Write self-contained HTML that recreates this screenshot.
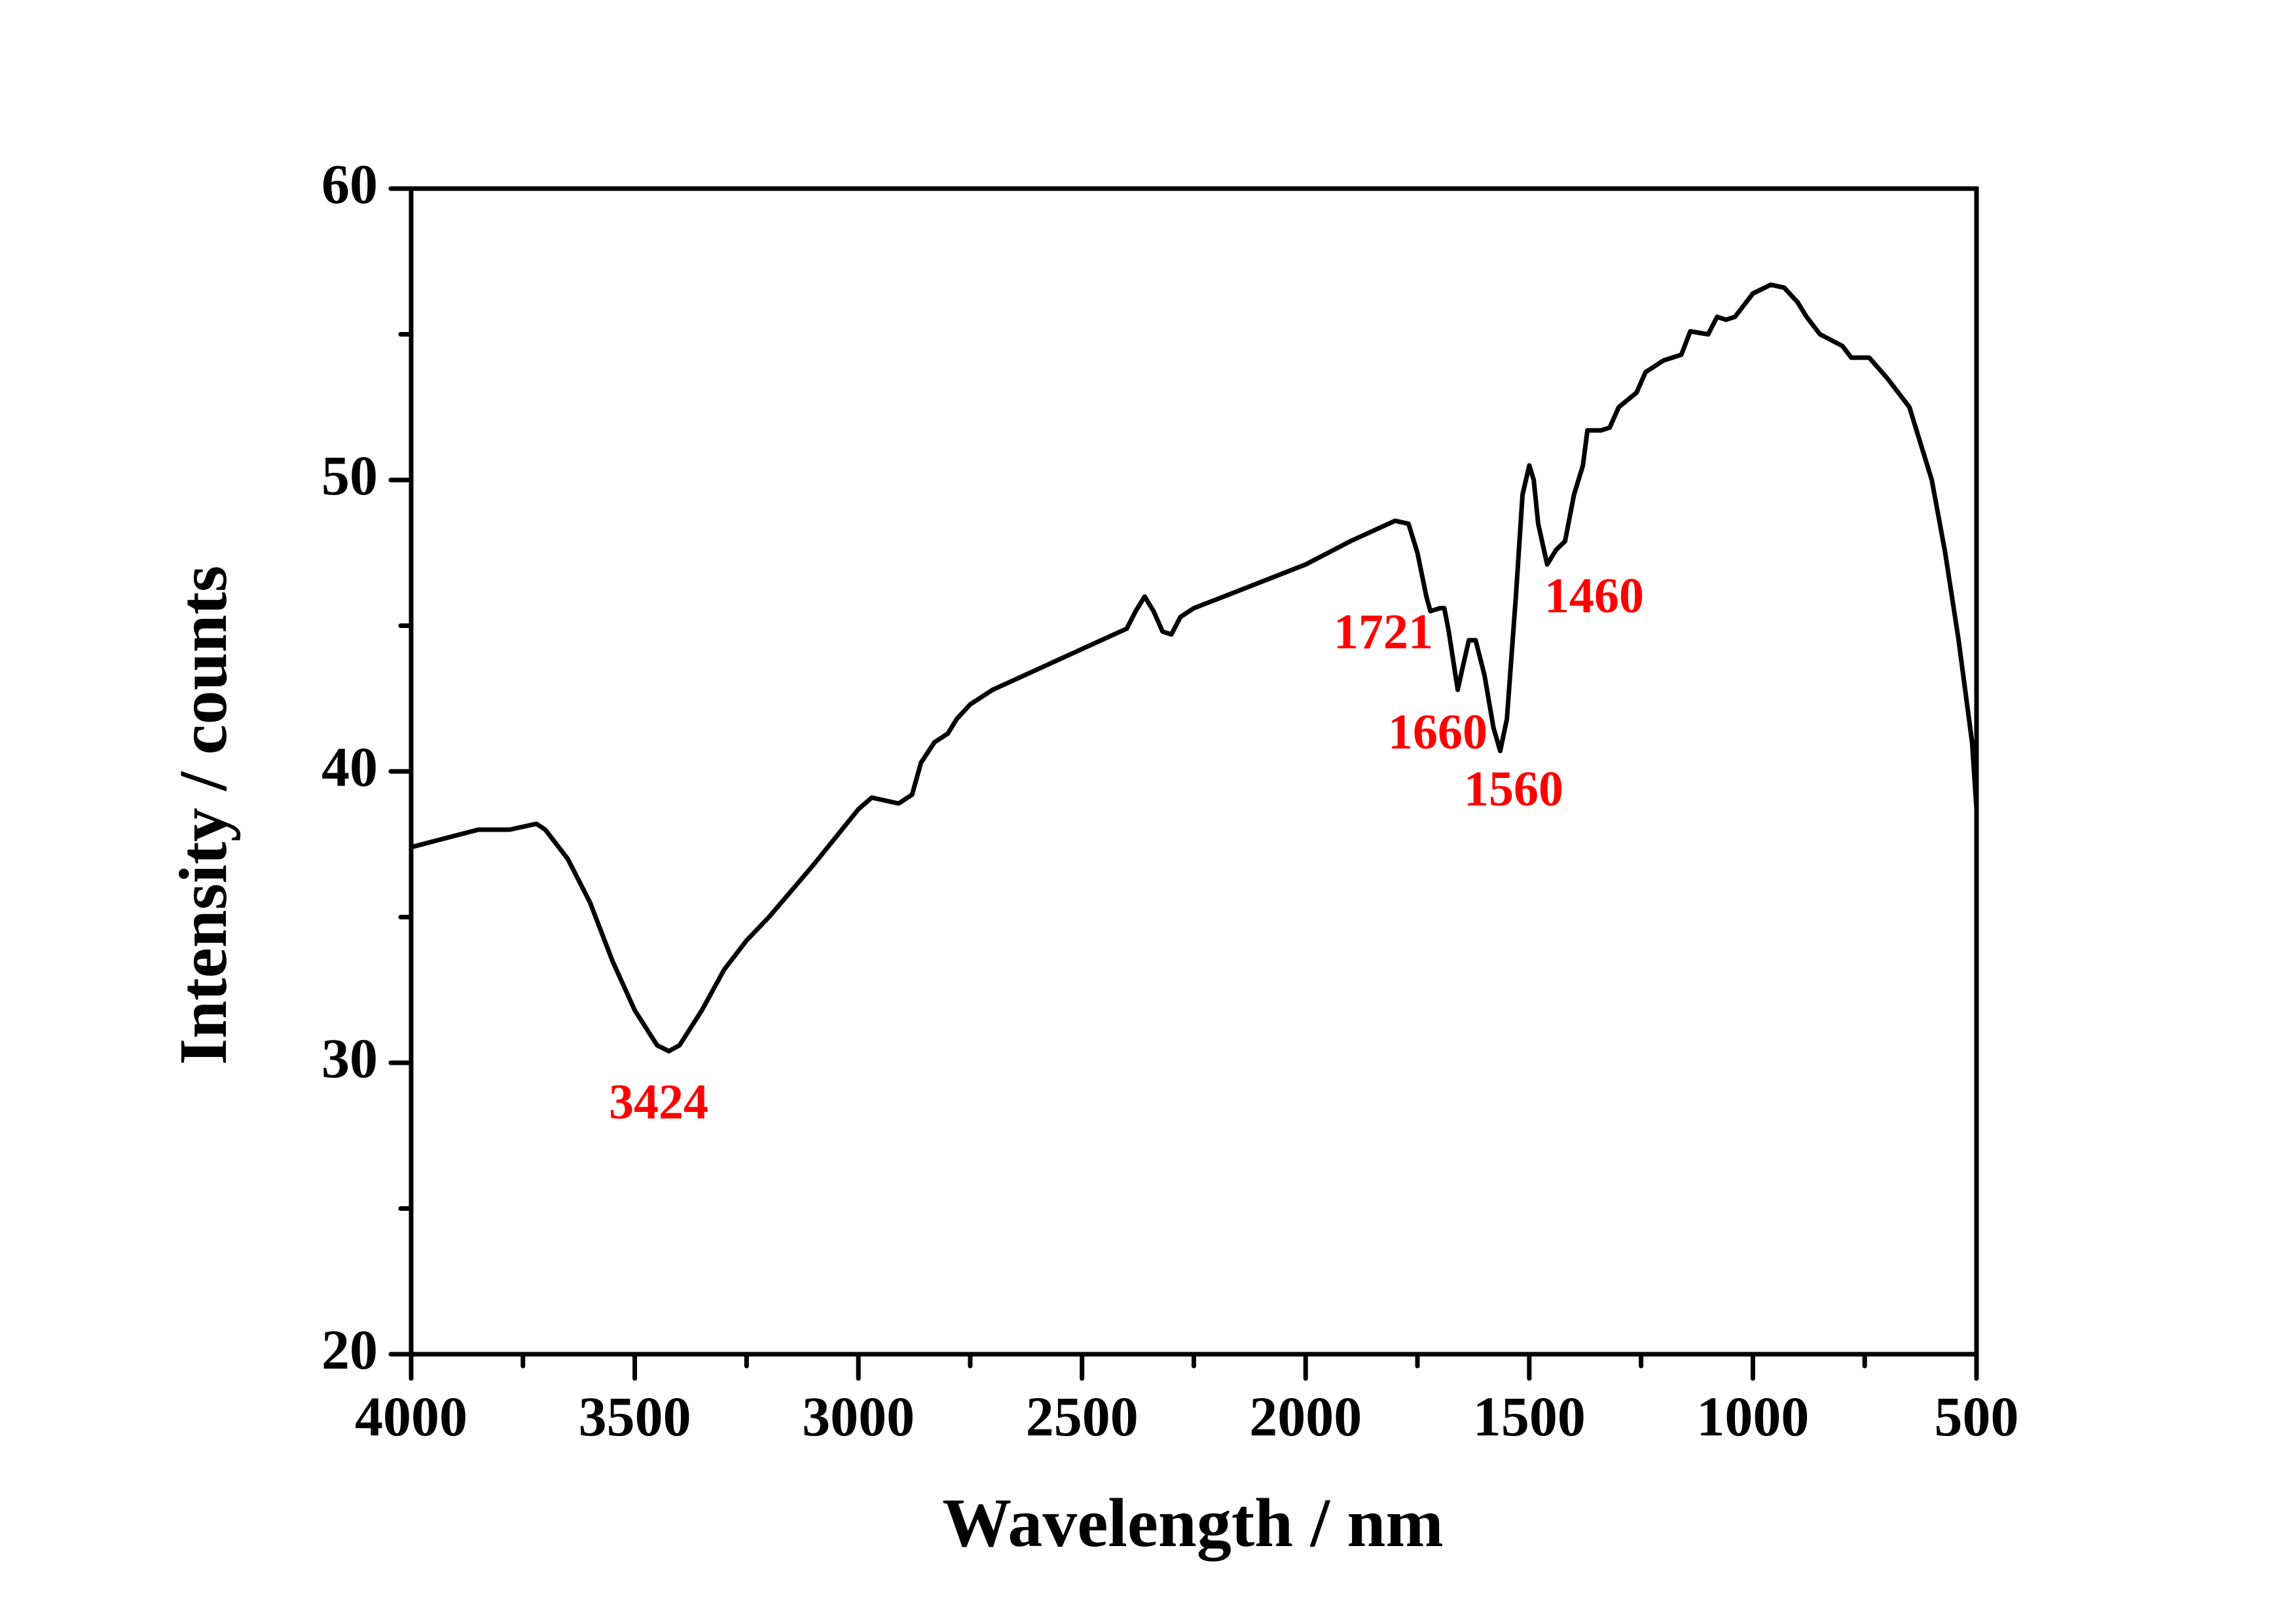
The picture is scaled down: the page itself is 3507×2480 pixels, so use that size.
<!DOCTYPE html>
<html><head><meta charset="utf-8"><style>
html,body{margin:0;padding:0;background:#fff;}
svg{display:block;}
text{font-family:"Liberation Serif",serif;font-weight:bold;}
</style></head><body>
<svg id="s" width="3507" height="2480" viewBox="0 0 3507 2480" xmlns="http://www.w3.org/2000/svg">
<g id="ticks" stroke="#000" stroke-width="7" stroke-linecap="round"></g>
<polyline id="curve" fill="none" stroke="#000" stroke-width="7" stroke-linejoin="round"/>
<rect x="628" y="288" width="2391" height="1780" fill="none" stroke="#000" stroke-width="7"/>
<g id="labels" font-size="86" fill="#000"></g>
<text x="1822" y="2361" font-size="106" text-anchor="middle">Wavelength / nm</text>
<text transform="translate(345,1245) rotate(-90)" font-size="104" text-anchor="middle">Intensity / counts</text>
<g fill="#ff0000" font-size="76" text-anchor="middle">
<text x="1006" y="1708">3424</text>
<text x="2113" y="990">1721</text>
<text x="2196" y="1143">1660</text>
<text x="2312" y="1230">1560</text>
<text x="2435" y="935">1460</text>
</g>
</svg>
<script>
var X=function(w){return 628+(4000-w)*2391/3500;};
var Y=function(v){return 2068-(v-20)*44.5;};
var d=[4000,37.4,3900,37.8,3850,38.0,3780,38.0,3720,38.2,3700,38.0,3650,37.0,3600,35.5,3550,33.5,3500,31.8,3450,30.6,3424,30.4,3400,30.6,3350,31.8,3300,33.2,3250,34.2,3200,35.0,3100,36.8,3000,38.7,2970,39.1,2940,39.0,2910,38.9,2880,39.2,2860,40.3,2830,41.0,2800,41.3,2780,41.8,2750,42.3,2700,42.8,2600,43.5,2500,44.2,2400,44.9,2380,45.5,2360,46.0,2340,45.5,2320,44.8,2300,44.7,2280,45.3,2250,45.6,2200,45.9,2100,46.5,2000,47.1,1900,47.9,1800,48.6,1770,48.5,1750,47.5,1730,46.0,1721,45.5,1700,45.6,1690,45.6,1680,44.8,1660,42.8,1650,43.5,1635,44.5,1620,44.5,1600,43.3,1580,41.5,1565,40.7,1550,41.8,1530,46,1515,49.5,1500,50.5,1490,50.0,1480,48.5,1460,47.1,1440,47.6,1420,47.9,1400,49.5,1380,50.5,1370,51.7,1340,51.7,1320,51.8,1300,52.5,1260,53.0,1240,53.7,1200,54.1,1160,54.3,1140,55.1,1100,55.0,1080,55.6,1060,55.5,1040,55.6,1020,56.0,1000,56.4,960,56.7,930,56.6,900,56.1,880,55.6,850,55.0,800,54.6,780,54.2,740,54.2,700,53.5,650,52.5,600,50.0,570,47.5,540,44.5,510,41.0,500,38.7];
var p=[];for(var i=0;i<d.length;i+=2)p.push(X(d[i]).toFixed(1)+","+Y(d[i+1]).toFixed(1));
document.getElementById("curve").setAttribute("points",p.join(" "));
var NS="http://www.w3.org/2000/svg",t=document.getElementById("ticks"),L=document.getElementById("labels");
function ln(a,b,c,e){var l=document.createElementNS(NS,"line");l.setAttribute("x1",a);l.setAttribute("y1",b);l.setAttribute("x2",c);l.setAttribute("y2",e);t.appendChild(l);}
function tx(x,y,s,a){var e=document.createElementNS(NS,"text");e.setAttribute("x",x);e.setAttribute("y",y);e.setAttribute("text-anchor",a);e.textContent=s;L.appendChild(e);}
for(var w=4000;w>=500;w-=250){var x=X(w);if(w%500==0){ln(x,2068,x,2105);tx(x,2192,w,"middle");}else ln(x,2068,x,2086);}
for(var v=20;v<=60;v+=5){var y=Y(v);if(v%10==0){ln(628,y,597,y);tx(577,y+22,v,"end");}else ln(628,y,612,y);}
</script>
</body></html>
